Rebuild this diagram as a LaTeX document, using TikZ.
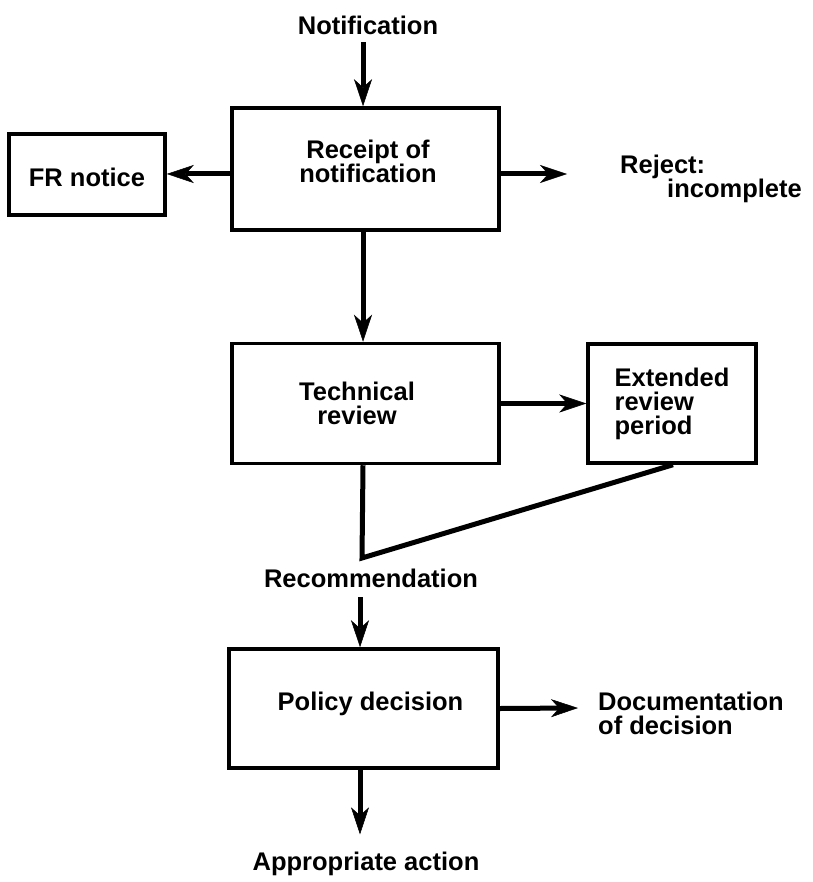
\documentclass[tikz,border=0pt]{standalone}
\usepackage{fontspec}
\setmainfont{Liberation Sans}
\usetikzlibrary{arrows.meta}
\begin{document}
\begin{tikzpicture}[x=1pt,y=-1pt,
  txt/.style={font=\bfseries\fontsize{25.5pt}{24pt}\selectfont, inner sep=0pt, align=center},
  box/.style={draw, line width=3.5pt, rectangle, inner sep=0pt},
  conn/.style={line width=5pt, line join=miter},
  arr/.style={conn, -{Stealth[length=27pt,width=18pt,inset=8pt,line width=0.5pt]}},
]
\useasboundingbox (0,0) rectangle (812,882);

% process boxes
\node[box, minimum width=267pt, minimum height=122pt,
      label={[txt,yshift=8pt,xshift=2.5pt]center:{Receipt of\\notification}}]
      (receipt) at (365.5,169) {};
\node[box, minimum width=156pt, minimum height=81pt,
      label={[txt,yshift=-3pt]center:{FR notice}}]
      (fr) at (87,174.5) {};
\node[box, minimum width=267pt, minimum height=120pt,
      label={[txt,xshift=-8.5pt]center:{Technical\\review}}]
      (tech) at (365.5,403.5) {};
\node[box, minimum width=168pt, minimum height=119pt,
      label={[txt,align=left]center:{Extended\\review\\period}}]
      (ext) at (672,403.5) {};
\node[box, minimum width=269pt, minimum height=119pt,
      label={[txt,yshift=5pt,xshift=7pt]center:{Policy decision}}]
      (policy) at (363.5,708.5) {};

% free-standing labels
\node[txt, anchor=base] (notif) at (368,35) {Notification};
\node[txt, anchor=base] (rec) at (371,587) {Recommendation};
\node[txt, anchor=base] (act) at (366,870) {Appropriate action};
\node[txt, anchor=north west, align=left] (rej) at (620,155) {Reject:\\\hspace*{47pt}incomplete};
\node[txt, anchor=north west, align=left] (doc) at (598,692) {Documentation\\of decision};

% connector ends and guide lines
\coordinate (spineA) at (363,0);
\coordinate (spineB) at (360,0);
\coordinate (rejtip) at (567,174);
\coordinate (doctip) at (578,708);
\coordinate (vee) at (362,558);
\coordinate (extfoot) at (673,463);

% connectors
\draw[arr] ([yshift=-7pt]notif.south -| spineA) -- (receipt.north -| spineA);
\draw[arr] (receipt.west |- rejtip) -- (fr.east |- rejtip);
\draw[arr] (receipt.east |- rejtip) -- (rejtip);
\draw[arr] (receipt.south -| spineA) -- (tech.north -| spineA);
\draw[arr] (tech.east) -- (ext.west |- tech.east);
\draw[conn] (tech.south -| spineA) -- (vee) -- (ext.south -| extfoot);
\draw[arr] ([yshift=-10pt]rec.south -| spineB) -- (policy.north -| spineB);
\draw[arr] (policy.east) -- (doctip);
\draw[arr] (policy.south -| spineB) -- ([yshift=17pt]act.north -| spineB);
\end{tikzpicture}
\end{document}
